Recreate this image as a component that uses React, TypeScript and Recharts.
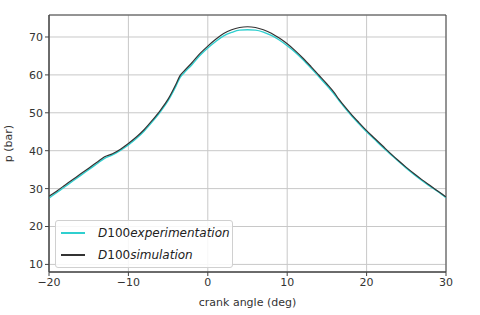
import React from 'react';
import { LineChart, Line, XAxis, YAxis, CartesianGrid, ReferenceArea } from 'recharts';

const angles = [-20, -19, -18, -17, -16, -15, -14, -13, -12, -11, -10, -9, -8, -7, -6, -5, -4, -3.5, -3, -2, -1, 0, 1, 2, 3, 4, 5, 6, 7, 8, 9, 10, 11, 12, 13, 14, 15, 16, 16.5, 17, 18, 19, 20, 21, 22, 23, 24, 25, 26, 27, 28, 29, 30];
const simP = [28.0, 29.4, 30.9, 32.4, 33.9, 35.4, 36.9, 38.4, 39.2, 40.4, 41.9, 43.6, 45.6, 48.0, 50.6, 53.6, 57.6, 59.8, 61.0, 63.2, 65.6, 67.6, 69.4, 70.9, 71.9, 72.5, 72.7, 72.5, 71.9, 71.0, 69.7, 68.2, 66.4, 64.4, 62.2, 59.9, 57.6, 55.1, 53.6, 52.3, 49.8, 47.5, 45.3, 43.3, 41.3, 39.3, 37.4, 35.6, 33.9, 32.3, 30.8, 29.3, 27.8];
const expP = [27.5, 29.0, 30.5, 32.0, 33.5, 35.0, 36.5, 38.0, 38.9, 40.1, 41.5, 43.2, 45.2, 47.6, 50.2, 53.2, 57.1, 59.3, 60.5, 62.7, 65.1, 67.1, 68.8, 70.3, 71.2, 71.8, 71.9, 71.8, 71.3, 70.4, 69.2, 67.7, 66.0, 64.0, 61.8, 59.5, 57.2, 54.7, 53.3, 52.0, 49.5, 47.2, 45.0, 43.0, 41.0, 39.1, 37.2, 35.4, 33.7, 32.1, 30.6, 29.2, 27.6];
const xTicks = [-20, -10, 0, 10, 20, 30];
const yTicks = [10, 20, 30, 40, 50, 60, 70];

const data = angles.map((a, i) => ({ a, exp: expP[i], sim: simP[i] }));

const font = 'DejaVu Sans, sans-serif';

function LegendBox() {
  const row = (color: string, word: string) => (
    <div style={{ display: 'flex', alignItems: 'center', height: 22 }}>
      <div style={{ width: 24, height: 2, background: color, marginLeft: 5, marginRight: 13 }} />
      <span style={{ fontFamily: font, fontSize: 12, color: '#222' }}>
        <i>D</i>100<i>{word}</i>
      </span>
    </div>
  );
  return (
    <div style={{ position: 'absolute', left: 55, top: 220, border: '1px solid #d0d0d0', borderRadius: 3, background: 'rgba(255,255,255,0.85)', width: 176, padding: '1px 0' }}>
      {row('#2fcfcf', 'experimentation')}
      {row('#333333', 'simulation')}
    </div>
  );
}

export default function App() {
  return (
    <div style={{ position: 'absolute', left: 0, top: 0, width: 480, height: 315, background: '#fff' }}>
      <LineChart width={480} height={315} data={data} margin={{ top: 15, right: 34, left: 0, bottom: 0 }}>
        <CartesianGrid stroke="#c8c8c8" strokeWidth={1} />
        <XAxis
          dataKey="a"
          type="number"
          domain={[-20, 30]}
          ticks={xTicks}
          allowDataOverflow
          height={43}
          tickSize={4}
          stroke="#444"
          tick={{ fill: '#333', fontSize: 11, fontFamily: font }}
          tickFormatter={(v) => (v < 0 ? `\u2212${-v}` : `${v}`)}
          label={{ value: 'crank angle (deg)', position: 'insideBottom', offset: 9, fill: '#333', fontSize: 11, fontFamily: font }}
        />
        <YAxis
          type="number"
          domain={[8, 75.8]}
          ticks={yTicks}
          allowDataOverflow
          width={49}
          tickSize={4}
          stroke="#444"
          tick={{ fill: '#333', fontSize: 11, fontFamily: font }}
          label={{ value: 'p (bar)', angle: -90, position: 'insideLeft', offset: 8, fill: '#333', fontSize: 11, fontFamily: font, style: { textAnchor: 'middle' } }}
        />
        <ReferenceArea x1={-20} x2={30} y1={8} y2={75.8} fill="none" stroke="#444" strokeWidth={1} ifOverflow="visible" />
        <Line dataKey="exp" type="monotone" stroke="#2fcfcf" strokeWidth={1.4} dot={false} isAnimationActive={false} />
        <Line dataKey="sim" type="monotone" stroke="#333333" strokeWidth={1.2} dot={false} isAnimationActive={false} />
      </LineChart>
      <LegendBox />
    </div>
  );
}
